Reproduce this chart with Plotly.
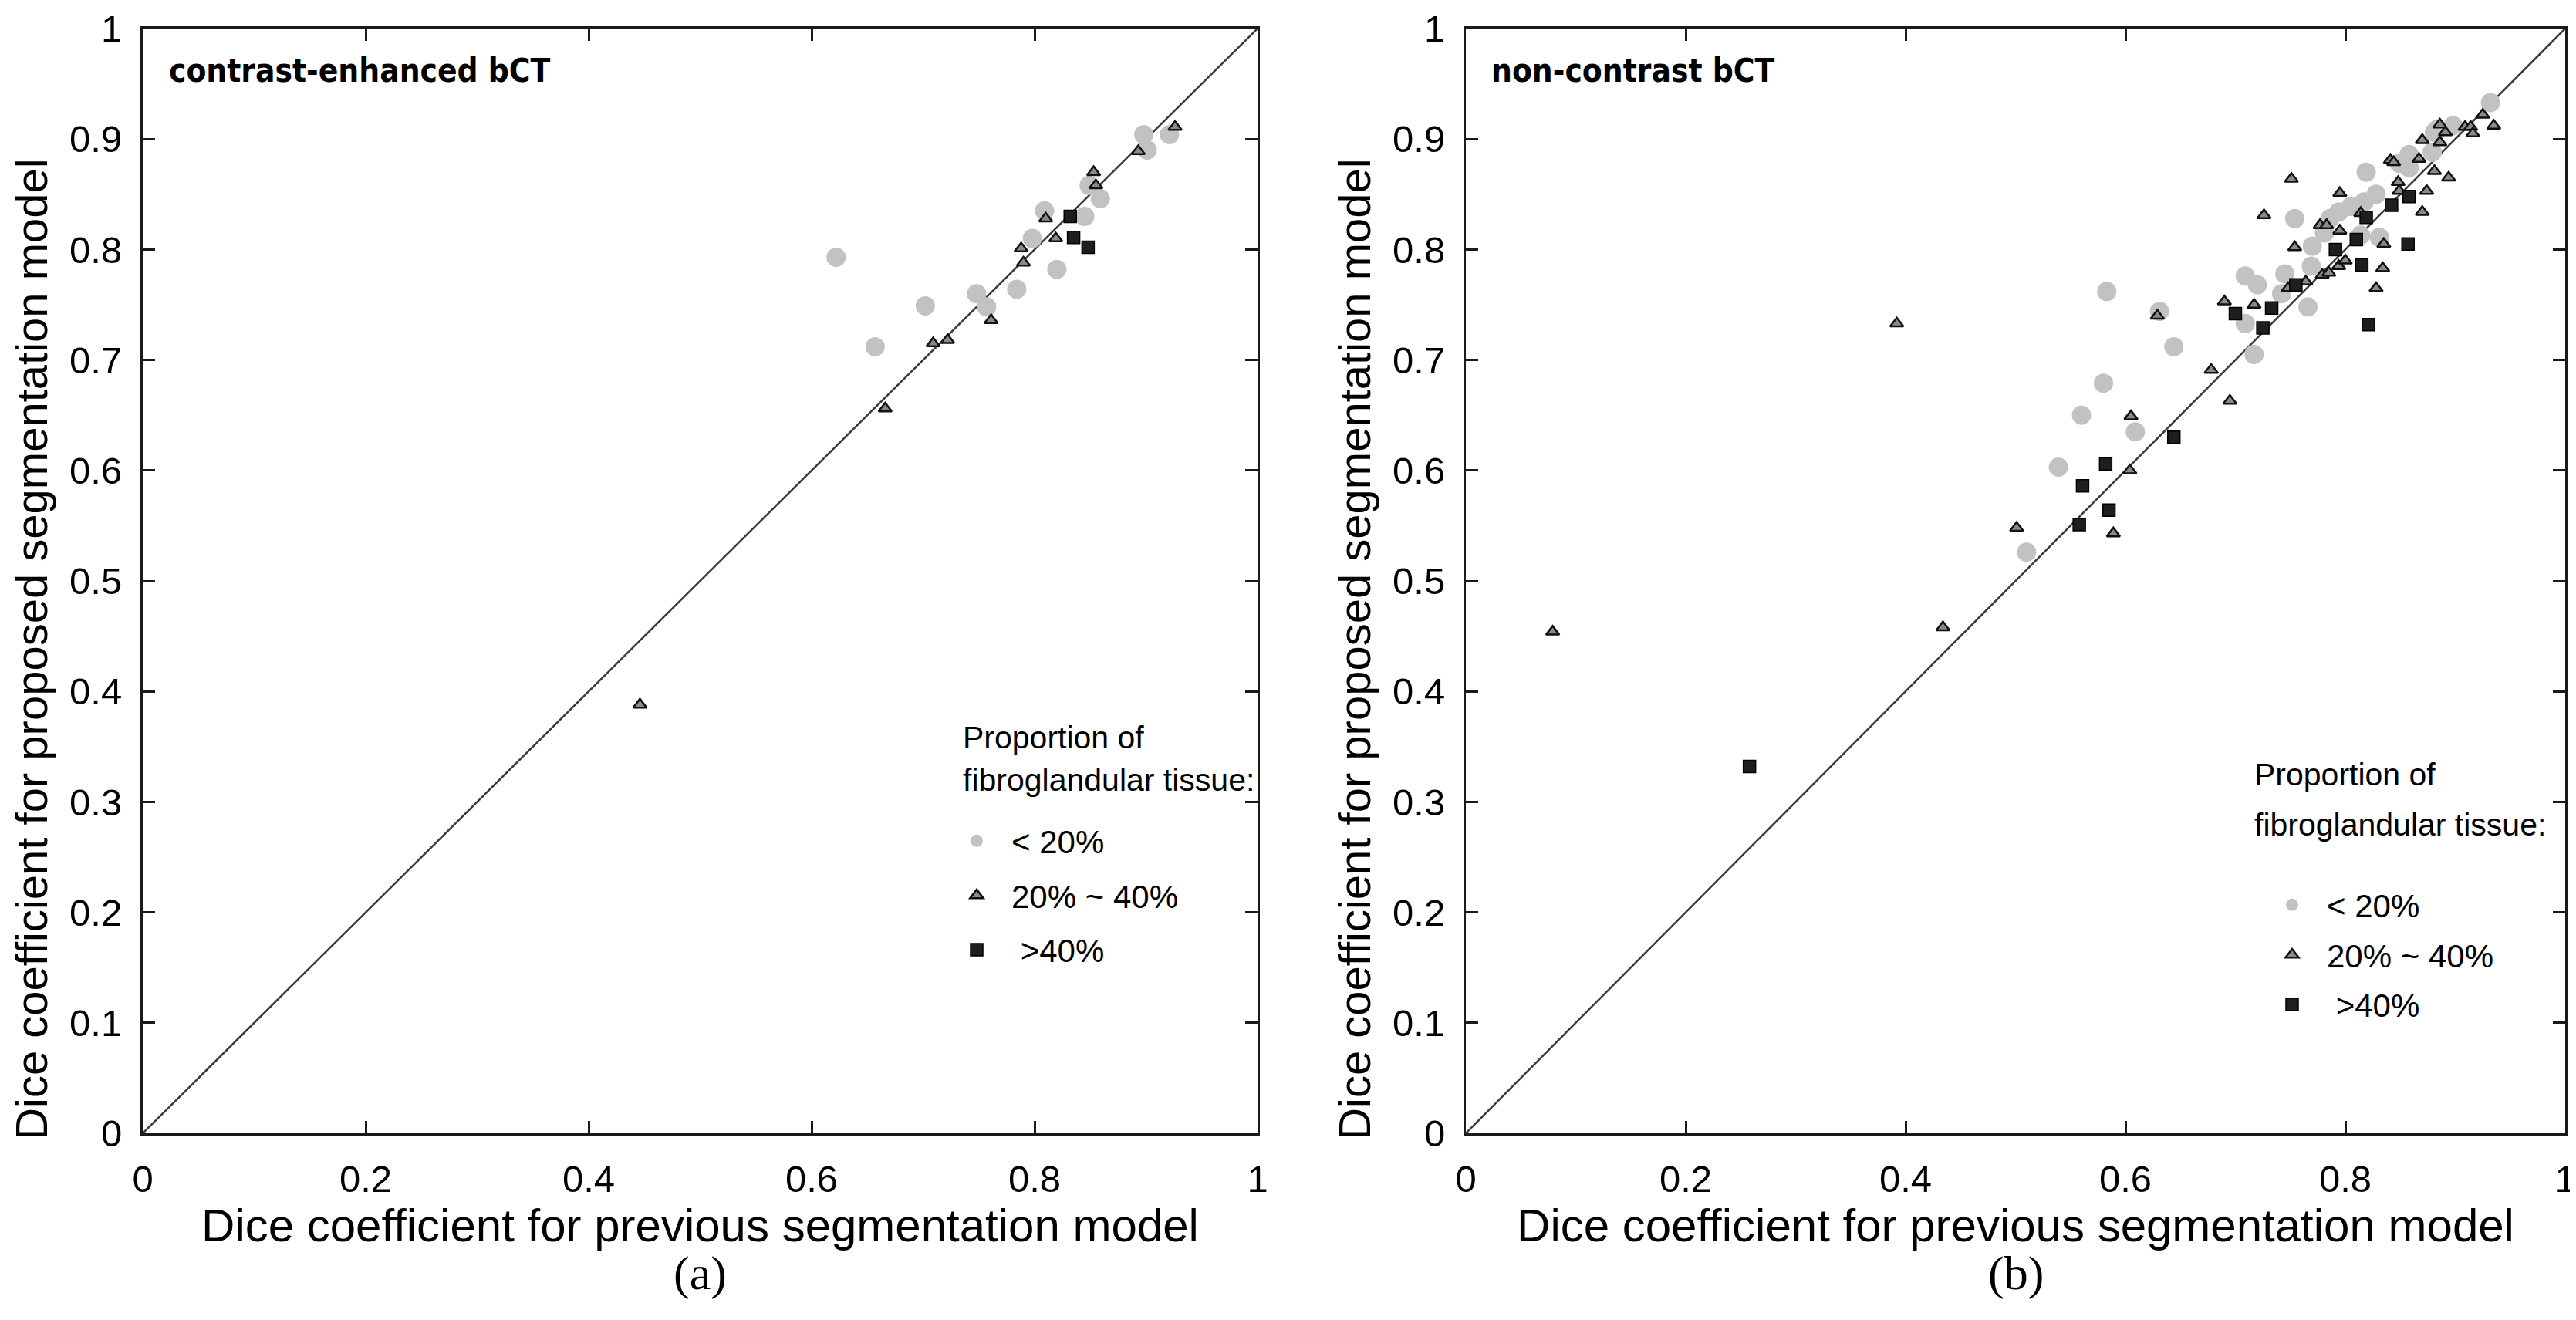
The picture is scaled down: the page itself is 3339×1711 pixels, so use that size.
import plotly.graph_objects as go

# ---------------- data ----------------
# (a) contrast-enhanced bCT
A_LOW_X = [0.622, 0.657, 0.702, 0.748, 0.757, 0.784, 0.798, 0.809, 0.820, 0.845, 0.859, 0.849, 0.898, 0.901, 0.921]
A_LOW_Y = [0.793, 0.712, 0.749, 0.760, 0.748, 0.764, 0.810, 0.835, 0.782, 0.830, 0.846, 0.858, 0.904, 0.890, 0.904]
A_MID_X = [0.446, 0.666, 0.709, 0.722, 0.761, 0.788, 0.790, 0.810, 0.819, 0.853, 0.855, 0.893, 0.926]
A_MID_Y = [0.388, 0.656, 0.715, 0.718, 0.736, 0.801, 0.788, 0.828, 0.810, 0.870, 0.858, 0.889, 0.911]
A_HIGH_X = [0.832, 0.835, 0.848]
A_HIGH_Y = [0.830, 0.811, 0.802]

# (b) non-contrast bCT
B_LOW_X = [0.510, 0.539, 0.560, 0.580, 0.583, 0.609, 0.631, 0.644, 0.709, 0.717, 0.742, 0.766, 0.709, 0.720,
           0.745, 0.769, 0.770, 0.781, 0.754, 0.786, 0.794, 0.805, 0.817, 0.828, 0.814, 0.831, 0.819, 0.849,
           0.858, 0.881, 0.879, 0.858, 0.884, 0.898, 0.932]
B_LOW_Y = [0.526, 0.603, 0.650, 0.679, 0.762, 0.635, 0.744, 0.712, 0.733, 0.705, 0.760, 0.748, 0.776, 0.768,
           0.778, 0.785, 0.803, 0.815, 0.828, 0.828, 0.834, 0.839, 0.843, 0.850, 0.813, 0.811, 0.870, 0.878,
           0.886, 0.906, 0.888, 0.874, 0.909, 0.912, 0.933]
B_MID_X = [0.079, 0.392, 0.434, 0.501, 0.589, 0.604, 0.605, 0.629, 0.678, 0.695, 0.690, 0.717, 0.748, 0.764,
           0.779, 0.785, 0.794, 0.800, 0.828, 0.834, 0.835, 0.754, 0.795, 0.777, 0.783, 0.814, 0.726, 0.795,
           0.751, 0.841, 0.844, 0.848, 0.849, 0.870, 0.874, 0.881, 0.894, 0.867, 0.870, 0.886, 0.891, 0.886,
           0.909, 0.914, 0.916, 0.925, 0.935]
B_MID_Y = [0.454, 0.733, 0.458, 0.548, 0.543, 0.600, 0.649, 0.740, 0.691, 0.663, 0.753, 0.750, 0.765, 0.771,
           0.777, 0.779, 0.785, 0.790, 0.765, 0.783, 0.805, 0.802, 0.817, 0.822, 0.822, 0.833, 0.831, 0.851,
           0.864, 0.881, 0.879, 0.861, 0.853, 0.834, 0.853, 0.871, 0.865, 0.882, 0.899, 0.897, 0.906, 0.913,
           0.911, 0.911, 0.905, 0.922, 0.912]
B_HIGH_X = [0.258, 0.558, 0.561, 0.582, 0.585, 0.644, 0.700, 0.725, 0.733, 0.755, 0.791, 0.810, 0.815, 0.819,
            0.821, 0.842, 0.858, 0.857]
B_HIGH_Y = [0.332, 0.551, 0.586, 0.606, 0.564, 0.630, 0.742, 0.729, 0.747, 0.768, 0.800, 0.809, 0.786, 0.829,
            0.732, 0.840, 0.848, 0.805]

DIAG = [0, 1]
GROUPS = ["< 20%", "20% ~ 40%", " >40%"]
PANEL_NOTES = ["contrast-enhanced bCT", "non-contrast bCT"]
PANEL_LABELS = ["(a)", "(b)"]
X_TICKS = [0, 0.2, 0.4, 0.6, 0.8, 1]
X_TICK_TEXT = ["0", "0.2", "0.4", "0.6", "0.8", "1"]
Y_TICKS = [0, 0.1, 0.2, 0.3, 0.4, 0.5, 0.6, 0.7, 0.8, 0.9, 1]
Y_TICK_TEXT = ["0", "0.1", "0.2", "0.3", "0.4", "0.5", "0.6", "0.7", "0.8", "0.9", "1"]
X_TITLE = "Dice coefficient for previous segmentation model"
Y_TITLE = "Dice coefficient for proposed segmentation model"
LEGEND_TITLE_LINES = ["Proportion of", "fibroglandular tissue:"]

# ---------------- styles ----------------
FONT = "Liberation Sans, Arial, Helvetica, sans-serif"
NARROW = "Liberation Sans Narrow, DejaVu Sans Condensed, Liberation Sans, Arial, sans-serif"
STYLES = [
    dict(symbol="circle", size=25, color="#c2c2c2", line=dict(width=0)),
    dict(symbol="triangle-up", size=15, color="#8a8a8a", line=dict(width=2.5, color="#111111")),
    dict(symbol="square", size=16, color="#1e1e1e", line=dict(width=1.5, color="#000000")),
]

fig = go.Figure()
panels = [
    ("x", "y", "legend", [(A_LOW_X, A_LOW_Y), (A_MID_X, A_MID_Y), (A_HIGH_X, A_HIGH_Y)]),
    ("x2", "y2", "legend2", [(B_LOW_X, B_LOW_Y), (B_MID_X, B_MID_Y), (B_HIGH_X, B_HIGH_Y)]),
]
for xa, ya, lg, series in panels:
    fig.add_trace(go.Scatter(x=DIAG, y=DIAG, mode="lines", xaxis=xa, yaxis=ya,
                             line=dict(color="#3a3a3a", width=2.5), showlegend=False, hoverinfo="skip"))
    for k, ((sx, sy), name, st) in enumerate(zip(series, GROUPS, STYLES)):
        fig.add_trace(go.Scatter(x=sx, y=sy, mode="markers", name=name, xaxis=xa, yaxis=ya,
                                 legend=lg, legendgroup=lg + str(k), marker=st))

axis_common = dict(range=[0, 1], showgrid=False, zeroline=False, showline=True, linecolor="#1a1a1a",
                   linewidth=3, mirror="ticks", ticks="inside", ticklen=16, tickwidth=3, tickcolor="#1a1a1a",
                   tickfont=dict(family=FONT, size=49, color="black"), ticklabelstandoff=14,
                   ticklabeloverflow="allow")

TITLE_FONT = dict(family=FONT, size=60, color="black")
YTITLE_FONT = dict(family=FONT, size=58, color="black")
R_MARGIN = 22
AREA_W = 3339 - 177 - R_MARGIN
L_DOM = [0, 1445 / AREA_W]
R_DOM = [(1892 - 177) / AREA_W, 1.0]
R_W = AREA_W - (1892 - 177)
fig.update_layout(
    xaxis=dict(axis_common, domain=L_DOM, anchor="y", tickvals=X_TICKS, ticktext=X_TICK_TEXT,
               title=dict(text=X_TITLE, font=TITLE_FONT, standoff=12)),
    yaxis=dict(axis_common, domain=[0, 1], anchor="x", tickvals=Y_TICKS, ticktext=Y_TICK_TEXT),
    xaxis2=dict(axis_common, domain=R_DOM, anchor="y2", tickvals=X_TICKS, ticktext=X_TICK_TEXT,
                title=dict(text=X_TITLE, font=TITLE_FONT, standoff=12)),
    yaxis2=dict(axis_common, domain=[0, 1], anchor="x2", tickvals=Y_TICKS, ticktext=Y_TICK_TEXT),
)

LEG_FONT = dict(family=FONT, size=42, color="black")
HEAD_FONT = dict(family=FONT, size=41, color="black")
legend_common = dict(font=LEG_FONT, bgcolor="rgba(0,0,0,0)", borderwidth=0, xanchor="left",
                     yanchor="top", itemsizing="trace", itemwidth=80)
fig.update_layout(
    legend=dict(legend_common, x=(1213 - 177) / AREA_W, y=0.2884, tracegroupgap=13),
    legend2=dict(legend_common, x=(2918 - 177) / AREA_W, y=0.2304, tracegroupgap=7),
)

# legend headings (per panel: x, y of the two lines, in data units)
HEAD_POS = [(0.734, [0.358, 0.320]), (0.716, [0.325, 0.279])]
YT_X = [-144 / 1445, -144 / R_W]
for i, (xa, ya) in enumerate([("x", "y"), ("x2", "y2")]):
    fig.add_annotation(text=Y_TITLE, xref=xa + " domain", yref="paper", x=YT_X[i], y=0.438,
                       xanchor="center", yanchor="middle", textangle=-90, showarrow=False,
                       font=YTITLE_FONT)
    fig.add_annotation(text=PANEL_NOTES[i], xref=xa, yref=ya, x=0.022, y=0.962, xanchor="left",
                       yanchor="middle", showarrow=False,
                       font=dict(family=NARROW, size=42, color="black", weight="bold"))
    fig.add_annotation(text=PANEL_LABELS[i], xref=xa + " domain", yref="paper", x=0.5, y=-0.127,
                       xanchor="center", yanchor="middle", showarrow=False,
                       font=dict(family="Liberation Serif, Times New Roman, serif", size=62, color="black"))
    hx, hys = HEAD_POS[i]
    for line, hy in zip(LEGEND_TITLE_LINES, hys):
        fig.add_annotation(text=line, xref=xa, yref=ya, x=hx, y=hy, xanchor="left", yanchor="middle",
                           showarrow=False, font=HEAD_FONT)

fig.update_layout(
    width=3339, height=1711,
    margin=dict(l=177, r=R_MARGIN, t=29, b=250, autoexpand=False),
    paper_bgcolor="white", plot_bgcolor="white",
    font=dict(family=FONT, color="black"),
)

fig.write_html("out.html")
